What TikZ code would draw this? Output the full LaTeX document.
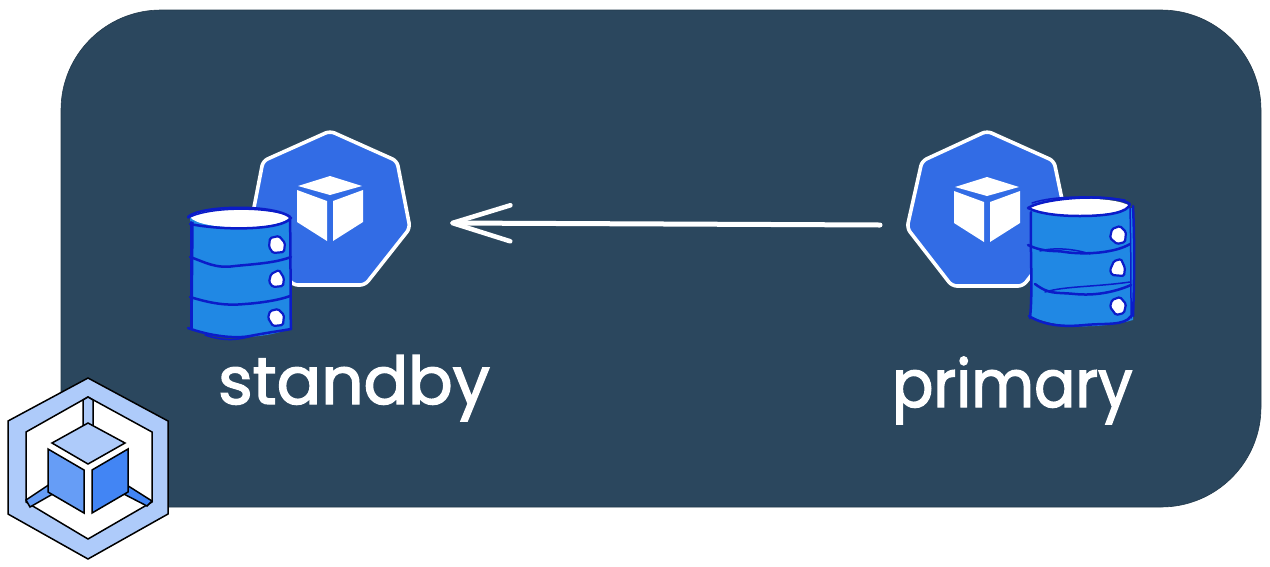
\documentclass[tikz,border=0pt]{standalone}
\usepackage{fontspec}
\setmainfont{Poppins}
\newfontfamily\handfont[FakeBold=2.2]{Poppins}
\usetikzlibrary{arrows.meta}
\definecolor{panel}{HTML}{2B475E}
\definecolor{kblue}{HTML}{326CE5}
\definecolor{dbfill}{HTML}{2088E4}
\definecolor{dbline}{HTML}{0B1CC9}
\definecolor{lgA}{HTML}{AECBFA}
\definecolor{lgB}{HTML}{669DF6}
\definecolor{lgC}{HTML}{4285F4}
\tikzset{
  panelbox/.style={fill=panel,draw=panel!80!black,line width=.6pt,rounded corners=100pt},
  kpoly/.style={fill=kblue,draw=white,line width=3.6pt,rounded corners=5pt,line join=round},
  kcube/.style={fill=white,draw=none},
  dbbody/.style={fill=dbfill,draw=none},
  sketch/.style={draw=dbline,line width=2.5pt,line cap=round,line join=round},
  sketchthin/.style={draw=dbline,line width=1.5pt,line cap=round,line join=round},
  bolt/.style={fill=white,draw=dbline,line width=2.2pt,rounded corners=1.5pt},
  lgline/.style={draw=black,line width=1.5pt,line join=miter},
  flowarrow/.style={draw=white,line width=5pt,line cap=round,-{Straight Barb[length=58pt,width=36pt,line width=4.6pt,round]}},
  handlabel/.style={text=white,font=\handfont\fontsize{66}{70}\selectfont,inner sep=0pt,anchor=base west}
}
\newcommand{\kcubeshape}{%
  \path[kcube] (330,176) -- (362,186) -- (330,195) -- (298,186) -- cycle;
  \path[kcube] (297,190) -- (327,201) -- (327,241) -- (297,222) -- cycle;
  \path[kcube] (363,190) -- (333,201) -- (333,241) -- (363,222) -- cycle;
}
\begin{document}
\begin{tikzpicture}[x=1pt,y=-1pt]
\useasboundingbox (0,0) rectangle (1270,566);
\fill[white] (0,0) rectangle (1270,566);
\path[panelbox] (61,10) rectangle (1261,507);

% standby engine
\path[kpoly] (330,131) -- (397,161) -- (410,228) -- (365,285) -- (293,285) -- (250,228) -- (263,161) -- cycle;
\kcubeshape
% primary engine
\path[kpoly] (987,131) -- (1054,161) -- (1068,228) -- (1023,286) -- (952,286) -- (907,228) -- (922,161) -- cycle;
\begin{scope}[shift={(657,1)}]\kcubeshape\end{scope}

% standby database
\path[dbbody] (190,218) -- (190,328) .. controls (215,340) and (265,340) .. (291,328) -- (291,218) -- cycle;
\path[fill=white] (190,217) .. controls (200,204) and (280,204) .. (290,217) .. controls (280,231) and (200,231) .. (190,217) -- cycle;
\draw[sketch] (188,217) .. controls (200,205) and (278,204) .. (291,218) .. controls (282,230) and (225,231) .. (190,224);
\draw[sketchthin] (188,218) .. controls (210,206) and (270,207) .. (290,216);
\draw[sketch] (191,222) -- (191,329);
\draw[sketch] (290,220) .. controls (291,260) and (290,300) .. (291,329);
\draw[sketchthin] (193,222) -- (192,328);
\draw[sketch] (190,257) .. controls (205,262) and (215,269) .. (235,266) .. controls (255,264) and (275,263) .. (291,257);
\draw[sketch] (190,297) .. controls (210,303) and (225,306) .. (245,304) .. controls (260,303) and (280,300) .. (290,296);
\draw[sketch] (188,328) .. controls (210,336) and (235,339) .. (250,336) .. controls (265,333) and (280,331) .. (291,329);
\draw[sketchthin] (205,335) .. controls (225,342) and (240,340) .. (255,335);
\path[bolt] (270,238) -- (279,236) -- (285,243) -- (284,252) -- (273,253) -- (269,247) -- cycle;
\path[bolt] (271,274) -- (279,270) -- (284,278) -- (283,286) -- (273,287) -- (269,282) -- cycle;
\path[bolt] (270,311) -- (278,309) -- (284,315) -- (283,325) -- (273,326) -- (268,318) -- cycle;

% primary database
\path[dbbody] (1030,208) -- (1030,316) .. controls (1060,330) and (1105,328) .. (1133,320) -- (1133,208) -- cycle;
\path[fill=white] (1030,208) .. controls (1050,196) and (1115,196) .. (1130,206) .. controls (1115,218) and (1050,218) .. (1030,208) -- cycle;
\draw[sketch] (1028,208) .. controls (1045,197) and (1115,193) .. (1130,204) .. controls (1128,212) and (1110,216) .. (1080,216) .. controls (1060,216) and (1040,214) .. (1028,208);
\draw[sketchthin] (1032,203) .. controls (1055,195) and (1100,196) .. (1125,200);
\draw[sketch] (1031,212) .. controls (1030,250) and (1033,290) .. (1030,318);
\draw[sketch] (1133,206) .. controls (1135,250) and (1134,290) .. (1133,316);
\draw[sketchthin] (1130,208) .. controls (1131,250) and (1131,290) .. (1131,318);
\draw[sketch] (1028,245) .. controls (1045,253) and (1055,250) .. (1065,252) .. controls (1085,255) and (1115,253) .. (1130,244);
\draw[sketchthin] (1040,251) .. controls (1055,247) and (1075,249) .. (1090,254);
\draw[sketch] (1035,284) .. controls (1050,295) and (1055,292) .. (1075,294) .. controls (1095,296) and (1115,292) .. (1131,285);
\draw[sketchthin] (1045,292) .. controls (1065,286) and (1095,287) .. (1130,282);
\draw[sketch] (1029,316) .. controls (1045,326) and (1065,327) .. (1085,325) .. controls (1105,323) and (1125,326) .. (1131,316);
\path[bolt] (1112,229) -- (1120,226) -- (1126,232) -- (1125,242) -- (1117,244) -- (1110,238) -- cycle;
\path[bolt] (1114,261) -- (1121,259) -- (1125,268) -- (1124,276) -- (1112,275) -- (1110,270) -- cycle;
\path[bolt] (1112,300) -- (1120,297) -- (1126,304) -- (1124,313) -- (1116,315) -- (1110,307) -- cycle;

% replication arrow
\coordinate (primaryport) at (880,225);
\coordinate (standbyport) at (450,223);
\draw[flowarrow] (primaryport) -- (standbyport);

% labels
\node[handlabel] (standbylabel) at (218,404) {standby};
\node[handlabel,xscale=.925] (primarylabel) at (892,407) {primary};

% logo
\path[fill=lgA,lgline] (88,378) -- (168,421) -- (168,514) -- (88,559) -- (8,514) -- (8,421) -- cycle;
\path[fill=white,lgline] (88,397) -- (152,432) -- (152,502) -- (88,539) -- (26,502) -- (26,432) -- cycle;
\path[fill=lgA,lgline] (83,400) -- (88,397) -- (93,400) -- (93,426) -- (83,426) -- cycle;
\path[fill=lgB,lgline] (26,500) -- (53,482) -- (58,491) -- (30,507) -- cycle;
\path[fill=lgC,lgline] (122,482) -- (152,501) -- (147,506) -- (118,491) -- cycle;
\path[fill=lgA,lgline] (88,423) -- (125,443) -- (88,464) -- (52,443) -- cycle;
\path[fill=lgB,lgline] (48,449) -- (84,470) -- (84,513) -- (48,492) -- cycle;
\path[fill=lgC,lgline] (128,449) -- (92,470) -- (92,513) -- (128,492) -- cycle;
\end{tikzpicture}
\end{document}
